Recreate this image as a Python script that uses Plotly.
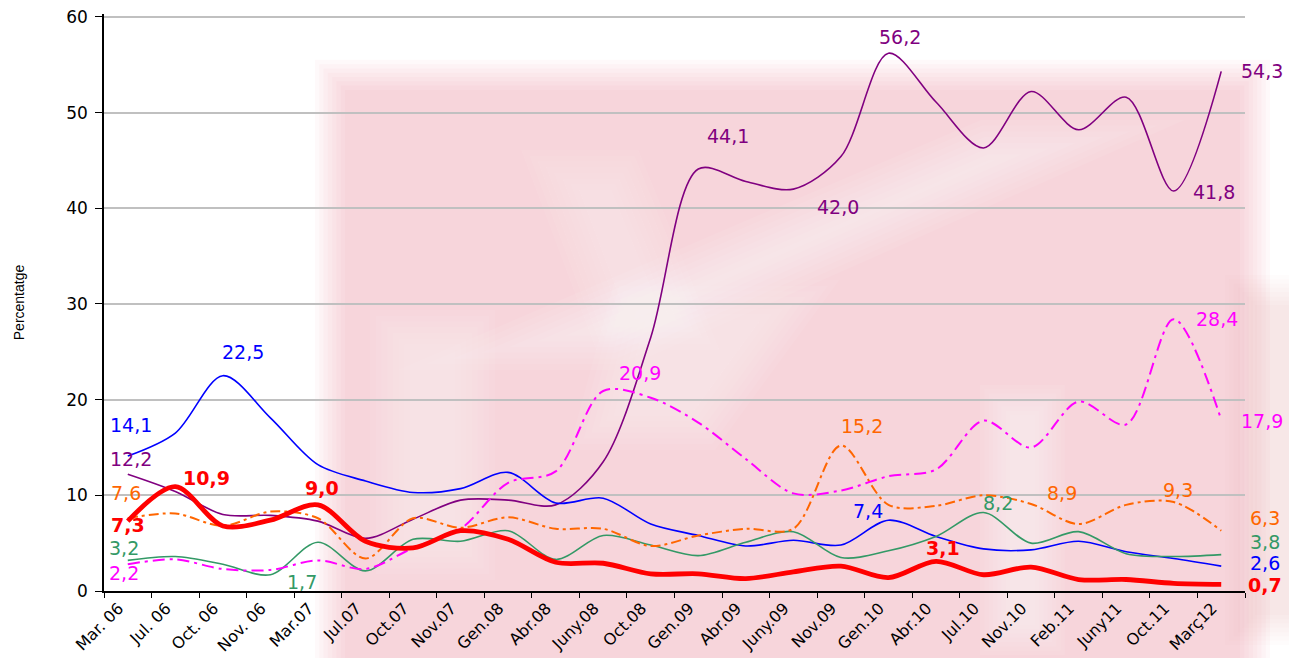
import plotly.graph_objects as go

categories = ["Mar. 06", "Jul. 06", "Oct. 06", "Nov. 06", "Mar.07", "Jul.07", "Oct.07", "Nov.07",
              "Gen.08", "Abr.08", "Juny.08", "Oct.08", "Gen.09", "Abr.09", "Juny.09", "Nov.09",
              "Gen.10", "Abr.10", "Jul.10", "Nov.10", "Feb.11", "Juny11", "Oct.11", "Març12"]

purple_vals = [12.2, 10.4, 8.0, 7.9, 7.3, 5.5, 7.5, 9.5, 9.5, 9.0, 13.5, 26.5,
               44.1, 42.8, 42.0, 45.4, 56.2, 51.1, 46.3, 52.2, 48.2, 51.6, 41.8, 54.3]
blue_vals = [14.1, 16.5, 22.5, 18.1, 13.2, 11.5, 10.3, 10.7, 12.4, 9.2, 9.7, 7.0,
             5.8, 4.7, 5.3, 4.8, 7.4, 5.7, 4.4, 4.3, 5.2, 4.1, 3.4, 2.6]
green_vals = [3.2, 3.6, 2.8, 1.7, 5.1, 2.1, 5.4, 5.2, 6.3, 3.3, 5.8, 4.8,
              3.7, 5.1, 6.2, 3.5, 4.2, 5.7, 8.2, 5.0, 6.2, 3.9, 3.6, 3.8]
orange_vals = [7.6, 8.1, 6.8, 8.3, 7.6, 3.4, 7.6, 6.6, 7.7, 6.5, 6.5, 4.7,
               5.8, 6.5, 6.5, 15.2, 9.0, 8.9, 10.0, 9.1, 7.0, 9.0, 9.3, 6.3]
magenta_vals = [2.8, 3.3, 2.3, 2.2, 3.2, 2.3, 4.5, 6.5, 11.3, 12.5, 20.9, 20.2,
                17.6, 13.8, 10.2, 10.5, 12.0, 12.7, 17.8, 15.0, 19.8, 17.4, 28.4, 17.9]
red_vals = [7.3, 10.9, 6.8, 7.4, 9.0, 5.2, 4.5, 6.3, 5.4, 3.0, 2.9, 1.8,
            1.8, 1.3, 2.0, 2.6, 1.4, 3.1, 1.7, 2.5, 1.2, 1.2, 0.8, 0.7]

y_ticks = [0, 10, 20, 30, 40, 50, 60]

# the page is offset by the default 8px body margin
OFF = 8
FW, FH = 1297 - OFF, 658 - OFF
# plot area in page pixels (axis top a little above the 60 line)
YMAX = 60.3
PX_PER_UNIT = (591 - 17) / 60.0
L, R, B = 104, 1245, 591
T = B - YMAX * PX_PER_UNIT

fig = go.Figure()

series = [
    (purple_vals, "#800080", 1.6, "solid"),
    (blue_vals, "#0000FF", 1.6, "solid"),
    (green_vals, "#339966", 1.6, "solid"),
    (orange_vals, "#FF6600", 2.0, "10px,4px,3px,4px"),
    (magenta_vals, "#FF00FF", 2.0, "12px,5px,3px,5px"),
    (red_vals, "#FF0000", 4.8, "solid"),
]
for vals, col, w, dash in series:
    fig.add_trace(go.Scatter(
        x=categories, y=vals, mode="lines",
        line=dict(color=col, width=w, dash=dash, shape="spline", smoothing=0.9),
        showlegend=False, hoverinfo="skip"))

# data labels: (text, series values, index, color, bold, xshift, yshift)
labels = [
    ("14,1", blue_vals, 0, "#0000FF", False, 3, 31),
    ("12,2", purple_vals, 0, "#800080", False, 3, 15),
    ("7,6", orange_vals, 0, "#FF6600", False, -2, 25),
    ("7,3", red_vals, 0, "#FF0000", True, 0, -4),
    ("3,2", green_vals, 0, "#339966", False, -4, 12),
    ("2,2", magenta_vals, 0, "#FF00FF", False, -4, -9),
    ("22,5", blue_vals, 2, "#0000FF", False, 20, 24),
    ("10,9", red_vals, 1, "#FF0000", True, 31, 9),
    ("9,0", red_vals, 4, "#FF0000", True, 4, 17),
    ("1,7", green_vals, 3, "#339966", False, 32, -7),
    ("20,9", magenta_vals, 10, "#FF00FF", False, 37, 18),
    ("44,1", purple_vals, 12, "#800080", False, 30, 33),
    ("42,0", purple_vals, 14, "#800080", False, 45, -18),
    ("56,2", purple_vals, 16, "#800080", False, 12, 16),
    ("54,3", purple_vals, 23, "#800080", False, 41, 0),
    ("41,8", purple_vals, 22, "#800080", False, 40, -1),
    ("28,4", magenta_vals, 22, "#FF00FF", False, 43, 0),
    ("17,9", magenta_vals, 23, "#FF00FF", False, 41, -1),
    ("15,2", orange_vals, 15, "#FF6600", False, 21, 20),
    ("7,4", blue_vals, 16, "#0000FF", False, -20, 9),
    ("3,1", red_vals, 17, "#FF0000", True, 7, 13),
    ("8,2", green_vals, 18, "#339966", False, 14, 10),
    ("8,9", orange_vals, 20, "#FF6600", False, -17, 31),
    ("9,3", orange_vals, 22, "#FF6600", False, 4, 12),
    ("6,3", orange_vals, 23, "#FF6600", False, 44, 13),
    ("3,8", green_vals, 23, "#339966", False, 44, 13),
    ("2,6", blue_vals, 23, "#0000FF", False, 44, 3),
    ("0,7", red_vals, 23, "#FF0000", True, 44, -1),
]
for text, vals, i, col, bold, dx, dy in labels:
    fig.add_annotation(
        x=categories[i], y=vals[i], xref="x", yref="y",
        text=f"<b>{text}</b>" if bold else text, showarrow=False,
        xshift=dx, yshift=dy,
        font=dict(family="DejaVu Sans", size=19, color=col))


# ---- faint, blurred watermark-like background (decoration only) ----
def px_path(pts):
    def cx(x):
        return (x - L) / (R - L)

    def cy(y):
        return (B - y) / (B - T)
    return "M " + " L ".join(f"{cx(x):.4f},{cy(y):.4f}" for x, y in pts) + " Z"


def inset(pts, s):
    # offset a convex polygon inward by s pixels (negative grows it)
    n = len(pts)
    area = sum(pts[i][0] * pts[(i + 1) % n][1] - pts[(i + 1) % n][0] * pts[i][1] for i in range(n))
    sign = 1 if area > 0 else -1
    lines = []
    for i in range(n):
        (x1, y1), (x2, y2) = pts[i], pts[(i + 1) % n]
        dx, dy = x2 - x1, y2 - y1
        ln = (dx * dx + dy * dy) ** 0.5
        nx, ny = -dy / ln * sign, dx / ln * sign
        lines.append(((x1 + nx * s, y1 + ny * s), (dx, dy)))
    out = []
    for i in range(n):
        (p, d), (q, e) = lines[i - 1], lines[i]
        den = d[0] * e[1] - d[1] * e[0]
        if abs(den) < 1e-9:
            out.append(q)
            continue
        t = ((q[0] - p[0]) * e[1] - (q[1] - p[1]) * e[0]) / den
        out.append((p[0] + d[0] * t, p[1] + d[1] * t))
    return out


def soft_poly(pts, color, per_opacity, steps=8, blur=30):
    for k in range(steps):
        s = -blur / 2 + blur * k / (steps - 1)
        fig.add_shape(type="path", path=px_path(inset(pts, s)), xref="paper", yref="paper",
                      fillcolor=color, opacity=per_opacity, line=dict(width=0), layer="below")


PINK = "rgb(238,160,172)"
WHITE = "rgb(255,255,255)"
soft_poly([(330, 75), (1255, 75), (1255, 700), (330, 700)], PINK, 0.06)
soft_poly([(1240, 290), (1320, 290), (1320, 630), (1240, 630)], PINK, 0.035)
soft_poly([(495, 350), (615, 350), (1090, 140), (985, 140)], WHITE, 0.07, blur=40)
soft_poly([(995, 400), (1050, 400), (1050, 640), (995, 640)], WHITE, 0.07, blur=30)
soft_poly([(630, 300), (800, 300), (705, 430), (595, 430)], WHITE, 0.06, blur=40)
soft_poly([(390, 330), (475, 330), (475, 560), (390, 560)], WHITE, 0.06, blur=40)
soft_poly([(550, 170), (625, 170), (690, 330), (610, 330)], WHITE, 0.05, blur=40)

fig.update_layout(
    width=FW, height=FH,
    margin=dict(l=L - OFF, r=FW - (R - OFF), t=T - OFF, b=FH - (B - OFF), autoexpand=False),
    paper_bgcolor="white", plot_bgcolor="rgba(0,0,0,0)",
    font=dict(family="DejaVu Sans", color="black"),
)
fig.update_xaxes(
    type="category", range=[-0.5, len(categories) - 0.5],
    showline=True, linecolor="black", linewidth=1.5,
    ticks="outside", ticklen=5, tickcolor="black", tickson="boundaries",
    tickangle=-45, tickfont=dict(family="DejaVu Sans", size=16, color="black"),
    ticklabelshift=-9,
    showgrid=False, zeroline=False,
)
fig.update_yaxes(
    range=[0, YMAX], tickvals=y_ticks, ticklabeloverflow="allow",
    showline=True, linecolor="black", linewidth=1.5,
    ticks="outside", ticklen=7, tickcolor="black", ticklabelstandoff=4,
    tickfont=dict(family="DejaVu Sans", size=17, color="black"),
    showgrid=True, gridcolor="#C0C0C0", gridwidth=1.5, zeroline=False,
    title=dict(text="Percentatge", font=dict(family="Liberation Sans", size=14, color="black"), standoff=38),
)

fig.write_html("out.html")
